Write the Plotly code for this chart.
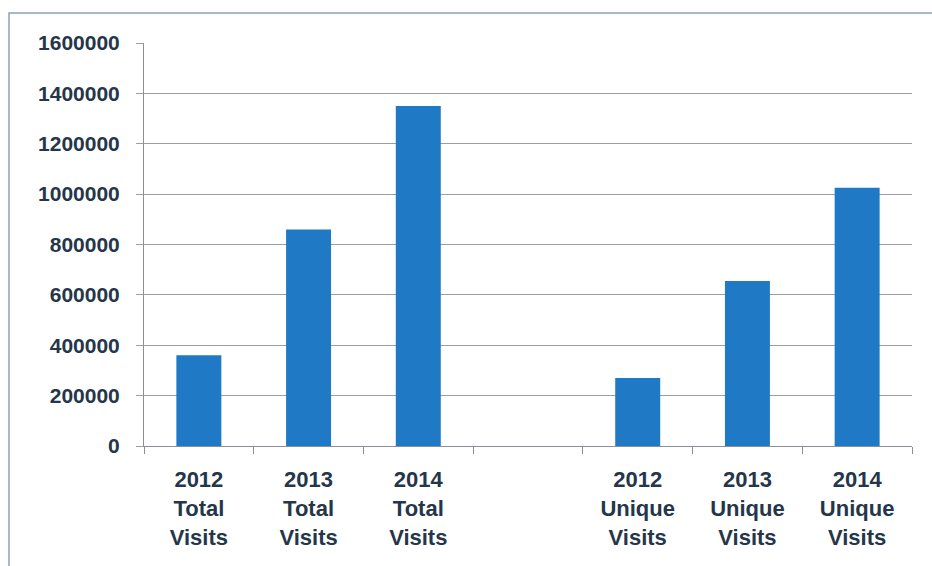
import plotly.graph_objects as go

categories = ["2012<br>Total<br>Visits", "2013<br>Total<br>Visits", "2014<br>Total<br>Visits", " ",
              "2012<br>Unique<br>Visits", "2013<br>Unique<br>Visits", "2014<br>Unique<br>Visits"]
visits = [360000, 860000, 1350000, None, 270000, 655000, 1025000]
y_ticks = [0, 200000, 400000, 600000, 800000, 1000000, 1200000, 1400000, 1600000]

W, H = 932, 566
L, R, T, B = 144, 20, 43, 120

fig = go.Figure()
fig.add_trace(go.Bar(x=categories, y=visits, marker=dict(color="#2079C4", line=dict(width=0)),
                     width=0.41))

fig.update_layout(
    width=W, height=H,
    margin=dict(l=L, r=R, t=T, b=B),
    paper_bgcolor="white", plot_bgcolor="white",
    showlegend=False,
    font=dict(family="Liberation Sans", color="#25364a"),
)
fig.update_xaxes(type="category", tickson="boundaries", ticks="outside", ticklen=7,
                 tickcolor="#8a8f98", showline=True, linecolor="#8a8f98", linewidth=1,
                 showgrid=False,
                 tickfont=dict(size=22, family="Liberation Sans", color="#25364a", weight="bold"),
                 ticklabelstandoff=14,
                 range=[-0.5, 6.5])
fig.update_yaxes(range=[0, 1600000], tickvals=y_ticks, ticktext=[str(v) for v in y_ticks],
                 showgrid=True, gridcolor="#9a9ea6", gridwidth=1, ticks="outside", ticklen=7,
                 tickcolor="#9a9ea6", showline=True, linecolor="#8a8f98", linewidth=1,
                 zeroline=False,
                 tickfont=dict(size=21, family="Liberation Sans", color="#25364a", weight="bold"),
                 ticklabelstandoff=12)

pw = W - L - R
ph = H - T - B
base = H - B
fig.add_shape(type="rect", xref="paper", yref="paper",
              x0=(9 - L) / pw, x1=(945 - L) / pw,
              y0=(base - 580) / ph, y1=(base - 13) / ph,
              line=dict(color="#8ea0b8", width=1.5), layer="below")

fig.write_html("out.html")
